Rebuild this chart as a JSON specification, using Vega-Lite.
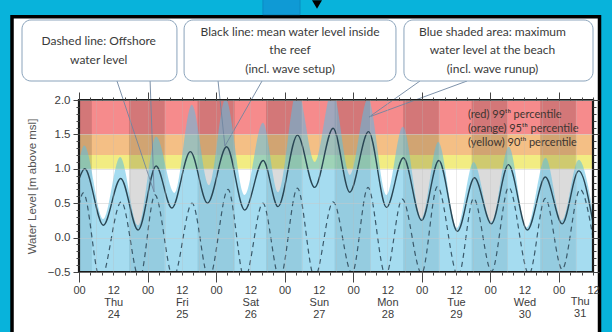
{
  "$schema": "https://vega.github.io/schema/vega-lite/v6.json",
  "width": 514,
  "height": 172,
  "autosize": {"type": "none"},
  "padding": {"left": 79, "top": 100, "right": 19, "bottom": 60},
  "background": "#08b3db",
  "config": {"view": {"stroke": null}},
  "datasets": {
    "one": [{"k": 1}],
    "mean": [{"h":0,"v":0.85},{"h":2,"v":1.0},{"h":8.5,"v":0.18},{"h":14.6,"v":0.86},{"h":20.7,"v":0.11},{"h":27,"v":1.04},{"h":32.5,"v":0.43},{"h":39,"v":1.25},{"h":45,"v":0.5},{"h":51.7,"v":1.32},{"h":58,"v":0.4},{"h":64.5,"v":1.12},{"h":69.7,"v":0.45},{"h":76.5,"v":1.49},{"h":82.5,"v":0.73},{"h":89,"v":1.59},{"h":94.8,"v":0.66},{"h":101.4,"v":1.54},{"h":107.7,"v":0.44},{"h":113.6,"v":1.16},{"h":120,"v":0.25},{"h":126,"v":1.12},{"h":132.5,"v":0.09},{"h":138.5,"v":0.87},{"h":144.4,"v":0.2},{"h":150.4,"v":1.06},{"h":157,"v":0.11},{"h":163.3,"v":0.88},{"h":169.2,"v":0.2},{"h":175,"v":0.97},{"h":180,"v":0.22}],
    "maxw": [{"h":0,"v":1.1},{"h":1.8,"v":1.34},{"h":8.5,"v":0.27},{"h":14.4,"v":1.17},{"h":20.7,"v":0.18},{"h":27,"v":1.47},{"h":33.4,"v":0.65},{"h":39.5,"v":1.93},{"h":45.6,"v":0.76},{"h":51.3,"v":2.02},{"h":58,"v":0.62},{"h":64.4,"v":1.67},{"h":69.8,"v":0.66},{"h":76.4,"v":2.15},{"h":82.6,"v":1.1},{"h":88.7,"v":2.15},{"h":94.9,"v":0.91},{"h":101.2,"v":2.02},{"h":107.7,"v":0.62},{"h":113.4,"v":1.61},{"h":120,"v":0.28},{"h":125.8,"v":1.39},{"h":132.3,"v":0.14},{"h":138.2,"v":1.1},{"h":144.5,"v":0.23},{"h":150.5,"v":1.32},{"h":156.8,"v":0.15},{"h":163.4,"v":1.16},{"h":169.1,"v":0.25},{"h":175,"v":1.13},{"h":180,"v":0.37}],
    "off": [{"h":0,"v":0.47},{"h":1.5,"v":0.65},{"h":7.5,"v":-0.62},{"h":14.8,"v":0.52},{"h":21.2,"v":-0.6},{"h":26.6,"v":0.62},{"h":33,"v":-0.58},{"h":39.6,"v":0.5},{"h":45.5,"v":-0.6},{"h":52.2,"v":0.7},{"h":58,"v":-0.6},{"h":64.4,"v":0.5},{"h":70.3,"v":-0.6},{"h":76.5,"v":0.72},{"h":82.5,"v":-0.58},{"h":89,"v":0.52},{"h":95.6,"v":-0.52},{"h":101.2,"v":0.73},{"h":107.4,"v":-0.55},{"h":113.2,"v":0.56},{"h":120,"v":-0.52},{"h":125.5,"v":0.74},{"h":132.8,"v":-0.56},{"h":138.2,"v":0.57},{"h":144.5,"v":-0.49},{"h":150.5,"v":0.73},{"h":157.6,"v":-0.53},{"h":163.3,"v":0.57},{"h":169.2,"v":-0.46},{"h":175.5,"v":0.7},{"h":180,"v":0.0}],
    "bands": [{"lo":1.5,"hi":2.0,"band":"red"},{"lo":1.2,"hi":1.5,"band":"orange"},{"lo":1.0,"hi":1.2,"band":"yellow"}],
    "nights": [{"s":0,"e":4.5},{"s":17.5,"e":30},{"s":41.5,"e":54.5},{"s":65.5,"e":78},{"s":89.5,"e":102},{"s":113.5,"e":126},{"s":137.5,"e":150},{"s":161.5,"e":174}],
    "boxes": [{"x1":-19.96,"x2":34.3,"y1":3.163,"y2":2.276},{"x1":36.8,"x2":111,"y1":3.163,"y2":2.276},{"x1":113.8,"x2":180,"y1":3.163,"y2":2.276}],
    "tails": [{"x":13.3,"y":2.276,"x2":26.3,"y2":0.663},{"x":24.9,"y":2.276,"x2":26.3,"y2":0.663},{"x":48.7,"y":2.276,"x2":51.1,"y2":1.331},{"x":64.1,"y":2.276,"x2":51.1,"y2":1.331},{"x":119.4,"y":2.276,"x2":101.6,"y2":1.753},{"x":135.9,"y":2.276,"x2":101.6,"y2":1.753}],
    "boxtext": [{"x":6.9,"y":2.858,"t":"Dashed line: Offshore"},{"x":6.9,"y":2.581,"t":"water level"},{"x":73.9,"y":2.988,"t":"Black line: mean water level inside"},{"x":73.9,"y":2.727,"t":"the reef"},{"x":73.9,"y":2.451,"t":"(incl. wave setup)"},{"x":144.8,"y":2.988,"t":"Blue shaded area: maximum"},{"x":144.8,"y":2.727,"t":"water level at the beach"},{"x":144.8,"y":2.451,"t":"(incl. wave runup)"}],
    "pct": [{"x":136.2,"y":1.782,"t":"(red) 99ᵗʰ percentile"},{"x":136.2,"y":1.574,"t":"(orange) 95ᵗʰ percentile"},{"x":136.2,"y":1.37,"t":"(yellow) 90ᵗʰ percentile"}],
    "lastday": [{"x":175.5,"y":-0.849,"t":"Thu"},{"x":175.5,"y":-1.023,"t":"31"}]
  },
  "resolve": {"axis": {"x": "independent", "y": "independent"}},
  "layer": [
    {
      "data": {"name": "one"},
      "mark": {"type": "rect", "fill": "white", "stroke": "#000", "strokeWidth": 3.5},
      "encoding": {
        "x": {"datum": -23.46, "type": "quantitative", "scale": {"domain": [0, 180], "nice": false, "zero": false}, "axis": null},
        "x2": {"datum": 182.28},
        "y": {"datum": 3.209, "type": "quantitative", "scale": {"domain": [-0.5, 2], "nice": false, "zero": false}, "axis": null},
        "y2": {"datum": -1.6}
      }
    },
    {
      "data": {"name": "one"},
      "mark": {"type": "rect", "fill": "#0f9ad5", "stroke": "#0b85bd", "strokeWidth": 0.8},
      "encoding": {
        "x": {"datum": 64.4, "type": "quantitative", "scale": {"domain": [0, 180], "nice": false, "zero": false}, "axis": null},
        "x2": {"datum": 77.4},
        "y": {"datum": 3.6, "type": "quantitative", "scale": {"domain": [-0.5, 2], "nice": false, "zero": false}, "axis": null},
        "y2": {"datum": 3.24}
      }
    },
    {
      "data": {"name": "one"},
      "mark": {"type": "point", "shape": "triangle-down", "filled": true, "color": "#000", "size": 100, "opacity": 1},
      "encoding": {
        "x": {"datum": 83.35, "type": "quantitative", "scale": {"domain": [0, 180], "nice": false, "zero": false}, "axis": null},
        "y": {"datum": 3.388, "type": "quantitative", "scale": {"domain": [-0.5, 2], "nice": false, "zero": false}, "axis": null}
      }
    },
    {
      "data": {"name": "bands"},
      "mark": {"type": "rect"},
      "encoding": {
        "x": {"datum": 0, "type": "quantitative", "scale": {"domain": [0, 180], "nice": false, "zero": false}, "axis": null},
        "x2": {"datum": 180},
        "y": {"field": "lo", "type": "quantitative", "scale": {"domain": [-0.5, 2], "nice": false, "zero": false}, "axis": null},
        "y2": {"field": "hi"},
        "color": {"field": "band", "type": "nominal", "scale": {"domain": ["red", "orange", "yellow"], "range": ["#f68b8c", "#f4bf85", "#f2ec82"]}, "legend": null}
      }
    },
    {
      "data": {"name": "nights"},
      "mark": {"type": "rect", "color": "#000", "opacity": 0.14},
      "encoding": {
        "x": {"field": "s", "type": "quantitative", "scale": {"domain": [0, 180], "nice": false, "zero": false},
              "axis": {"orient": "top", "values": [0, 24, 48, 72, 96, 120, 144, 168], "labels": false, "domain": false, "grid": false, "tickSize": 8, "tickColor": "#444", "tickWidth": 1, "title": null, "zindex": 1}},
        "x2": {"field": "e"},
        "y": {"datum": -0.5, "type": "quantitative", "scale": {"domain": [-0.5, 2], "nice": false, "zero": false}, "axis": null},
        "y2": {"datum": 2.0}
      }
    },
    {
      "data": {"name": "maxw"},
      "mark": {"type": "area", "interpolate": "monotone", "color": "#5bbfe3", "opacity": 0.55, "clip": true},
      "encoding": {
        "x": {"field": "h", "type": "quantitative", "scale": {"domain": [0, 180], "nice": false, "zero": false},
              "axis": {"orient": "bottom", "values": [0, 12, 24, 36, 48, 60, 72, 84, 96, 108, 120, 132, 144, 156, 168, 180], "ticks": false, "tickSize": 0, "domain": false, "grid": false,
                       "labelExpr": "datum.value % 24 == 0 ? '00' : (datum.value >= 180 ? '12' : ['12', ['Thu','Fri','Sat','Sun','Mon','Tue','Wed'][floor(datum.value / 24)], '' + (24 + floor(datum.value / 24))])",
                       "labelFont": "Liberation Sans", "labelFontSize": 11, "labelColor": "#3c3c3c", "labelPadding": 12, "labelLineHeight": 12, "labelBaseline": "top", "labelAlign": "center", "labelFlush": false, "labelOverlap": false, "labelBound": false, "title": null, "zindex": 1}},
        "y": {"field": "v", "type": "quantitative", "scale": {"domain": [-0.5, 2], "nice": false, "zero": false},
              "axis": {"orient": "left", "values": [-0.5, 0, 0.5, 1, 1.5, 2], "format": ".1f", "tickSize": 6, "tickColor": "#444", "tickWidth": 1, "domain": false, "grid": true, "gridColor": "#c9c9c9", "gridOpacity": 0.6, "gridWidth": 0.8,
                       "labelFont": "Liberation Sans", "labelFontSize": 11.5, "labelColor": "#3c3c3c", "labelPadding": 3, "labelFlush": false, "labelOverlap": false,
                       "title": "Water Level [m above msl]", "titleFont": "Liberation Sans", "titleFontSize": 11.5, "titleFontWeight": "normal", "titleColor": "#555", "titlePadding": 10, "zindex": 1}},
        "y2": {"datum": -0.5}
      }
    },
    {
      "data": {"name": "mean"},
      "mark": {"type": "line", "interpolate": "monotone", "color": "#2a4654", "strokeWidth": 1.4, "clip": true},
      "encoding": {
        "x": {"field": "h", "type": "quantitative", "scale": {"domain": [0, 180], "nice": false, "zero": false},
              "axis": {"orient": "bottom", "values": [0, 24, 48, 72, 96, 120, 144, 168], "labels": false, "domain": false, "grid": false, "tickSize": 10, "tickColor": "#444", "tickWidth": 1, "title": null, "zindex": 1}},
        "y": {"field": "v", "type": "quantitative", "scale": {"domain": [-0.5, 2], "nice": false, "zero": false},
              "axis": {"orient": "left", "values": [-0.5, -0.4, -0.3, -0.2, -0.1, 0, 0.1, 0.2, 0.3, 0.4, 0.5, 0.6, 0.7, 0.8, 0.9, 1, 1.1, 1.2, 1.3, 1.4, 1.5, 1.6, 1.7, 1.8, 1.9, 2], "labels": false, "domain": false, "grid": false, "tickSize": 3, "tickColor": "#444", "tickWidth": 1, "title": null, "zindex": 1}}
      }
    },
    {
      "data": {"name": "off"},
      "mark": {"type": "line", "interpolate": "monotone", "color": "#3b5a6b", "strokeWidth": 1.2, "strokeDash": [5, 4], "clip": true},
      "encoding": {
        "x": {"field": "h", "type": "quantitative", "scale": {"domain": [0, 180], "nice": false, "zero": false},
              "axis": {"orient": "bottom", "values": [0, 4, 8, 12, 16, 20, 24, 28, 32, 36, 40, 44, 48, 52, 56, 60, 64, 68, 72, 76, 80, 84, 88, 92, 96, 100, 104, 108, 112, 116, 120, 124, 128, 132, 136, 140, 144, 148, 152, 156, 160, 164, 168, 172, 176, 180], "labels": false, "domain": false, "grid": false, "tickSize": 3, "tickColor": "#444", "tickWidth": 1, "title": null, "zindex": 1}},
        "y": {"field": "v", "type": "quantitative", "scale": {"domain": [-0.5, 2], "nice": false, "zero": false},
              "axis": {"orient": "right", "values": [-0.5, -0.4, -0.3, -0.2, -0.1, 0, 0.1, 0.2, 0.3, 0.4, 0.5, 0.6, 0.7, 0.8, 0.9, 1, 1.1, 1.2, 1.3, 1.4, 1.5, 1.6, 1.7, 1.8, 1.9, 2], "labels": false, "domain": false, "grid": false, "tickSize": 3, "tickColor": "#444", "tickWidth": 1, "title": null, "zindex": 1}}
      }
    },
    {
      "data": {"name": "tails"},
      "mark": {"type": "rule", "color": "#6f86a0", "strokeWidth": 0.9},
      "encoding": {
        "x": {"field": "x", "type": "quantitative", "scale": {"domain": [0, 180], "nice": false, "zero": false},
              "axis": {"orient": "bottom", "values": [6, 12, 18, 24, 30, 36, 42, 48, 54, 60, 66, 72, 78, 84, 90, 96, 102, 108, 114, 120, 126, 132, 138, 144, 150, 156, 162, 168, 174], "labels": false, "ticks": false, "domain": false, "grid": true, "gridColor": "#bbbbbb", "gridOpacity": 0.35, "gridWidth": 0.8, "title": null, "zindex": 1}},
        "y": {"field": "y", "type": "quantitative", "scale": {"domain": [-0.5, 2], "nice": false, "zero": false}, "axis": null},
        "x2": {"field": "x2"},
        "y2": {"field": "y2"}
      }
    },
    {
      "data": {"name": "boxes"},
      "mark": {"type": "rect", "fill": "white", "stroke": "#8aa3bb", "strokeWidth": 1, "cornerRadius": 9},
      "encoding": {
        "x": {"field": "x1", "type": "quantitative", "scale": {"domain": [0, 180], "nice": false, "zero": false},
              "axis": {"orient": "top", "values": [0, 4, 8, 12, 16, 20, 24, 28, 32, 36, 40, 44, 48, 52, 56, 60, 64, 68, 72, 76, 80, 84, 88, 92, 96, 100, 104, 108, 112, 116, 120, 124, 128, 132, 136, 140, 144, 148, 152, 156, 160, 164, 168, 172, 176, 180], "labels": false, "domain": false, "grid": false, "tickSize": 3, "tickColor": "#444", "tickWidth": 1, "title": null, "zindex": 1}},
        "x2": {"field": "x2"},
        "y": {"field": "y1", "type": "quantitative", "scale": {"domain": [-0.5, 2], "nice": false, "zero": false}, "axis": null},
        "y2": {"field": "y2"}
      }
    },
    {
      "data": {"name": "boxtext"},
      "mark": {"type": "text", "font": "Lato", "fontSize": 12, "color": "#3a3a3a", "align": "center", "baseline": "middle"},
      "encoding": {
        "x": {"field": "x", "type": "quantitative", "scale": {"domain": [0, 180], "nice": false, "zero": false}, "axis": null},
        "y": {"field": "y", "type": "quantitative", "scale": {"domain": [-0.5, 2], "nice": false, "zero": false}, "axis": null},
        "text": {"field": "t", "type": "nominal"}
      }
    },
    {
      "data": {"name": "pct"},
      "mark": {"type": "text", "font": "Lato", "fontSize": 11, "color": "#3d3530", "align": "left", "baseline": "middle"},
      "encoding": {
        "x": {"field": "x", "type": "quantitative", "scale": {"domain": [0, 180], "nice": false, "zero": false}, "axis": null},
        "y": {"field": "y", "type": "quantitative", "scale": {"domain": [-0.5, 2], "nice": false, "zero": false},
              "axis": {"orient": "right", "values": [-0.5, 0, 0.5, 1, 1.5, 2], "labels": false, "domain": false, "grid": false, "tickSize": 6, "tickColor": "#444", "tickWidth": 1, "title": null, "zindex": 1}},
        "text": {"field": "t", "type": "nominal"}
      }
    },
    {
      "data": {"name": "lastday"},
      "mark": {"type": "text", "font": "Liberation Sans", "fontSize": 11, "color": "#3c3c3c", "align": "center", "baseline": "top"},
      "encoding": {
        "x": {"field": "x", "type": "quantitative", "scale": {"domain": [0, 180], "nice": false, "zero": false}, "axis": null},
        "y": {"field": "y", "type": "quantitative", "scale": {"domain": [-0.5, 2], "nice": false, "zero": false}, "axis": null},
        "text": {"field": "t", "type": "nominal"}
      }
    },
    {
      "data": {"name": "one"},
      "mark": {"type": "rect", "filled": false, "stroke": "#1a1a1a", "strokeWidth": 2.2},
      "encoding": {
        "x": {"datum": 0, "type": "quantitative", "scale": {"domain": [0, 180], "nice": false, "zero": false}, "axis": null},
        "x2": {"datum": 180},
        "y": {"datum": -0.5, "type": "quantitative", "scale": {"domain": [-0.5, 2], "nice": false, "zero": false}, "axis": null},
        "y2": {"datum": 2.0}
      }
    }
  ]
}
